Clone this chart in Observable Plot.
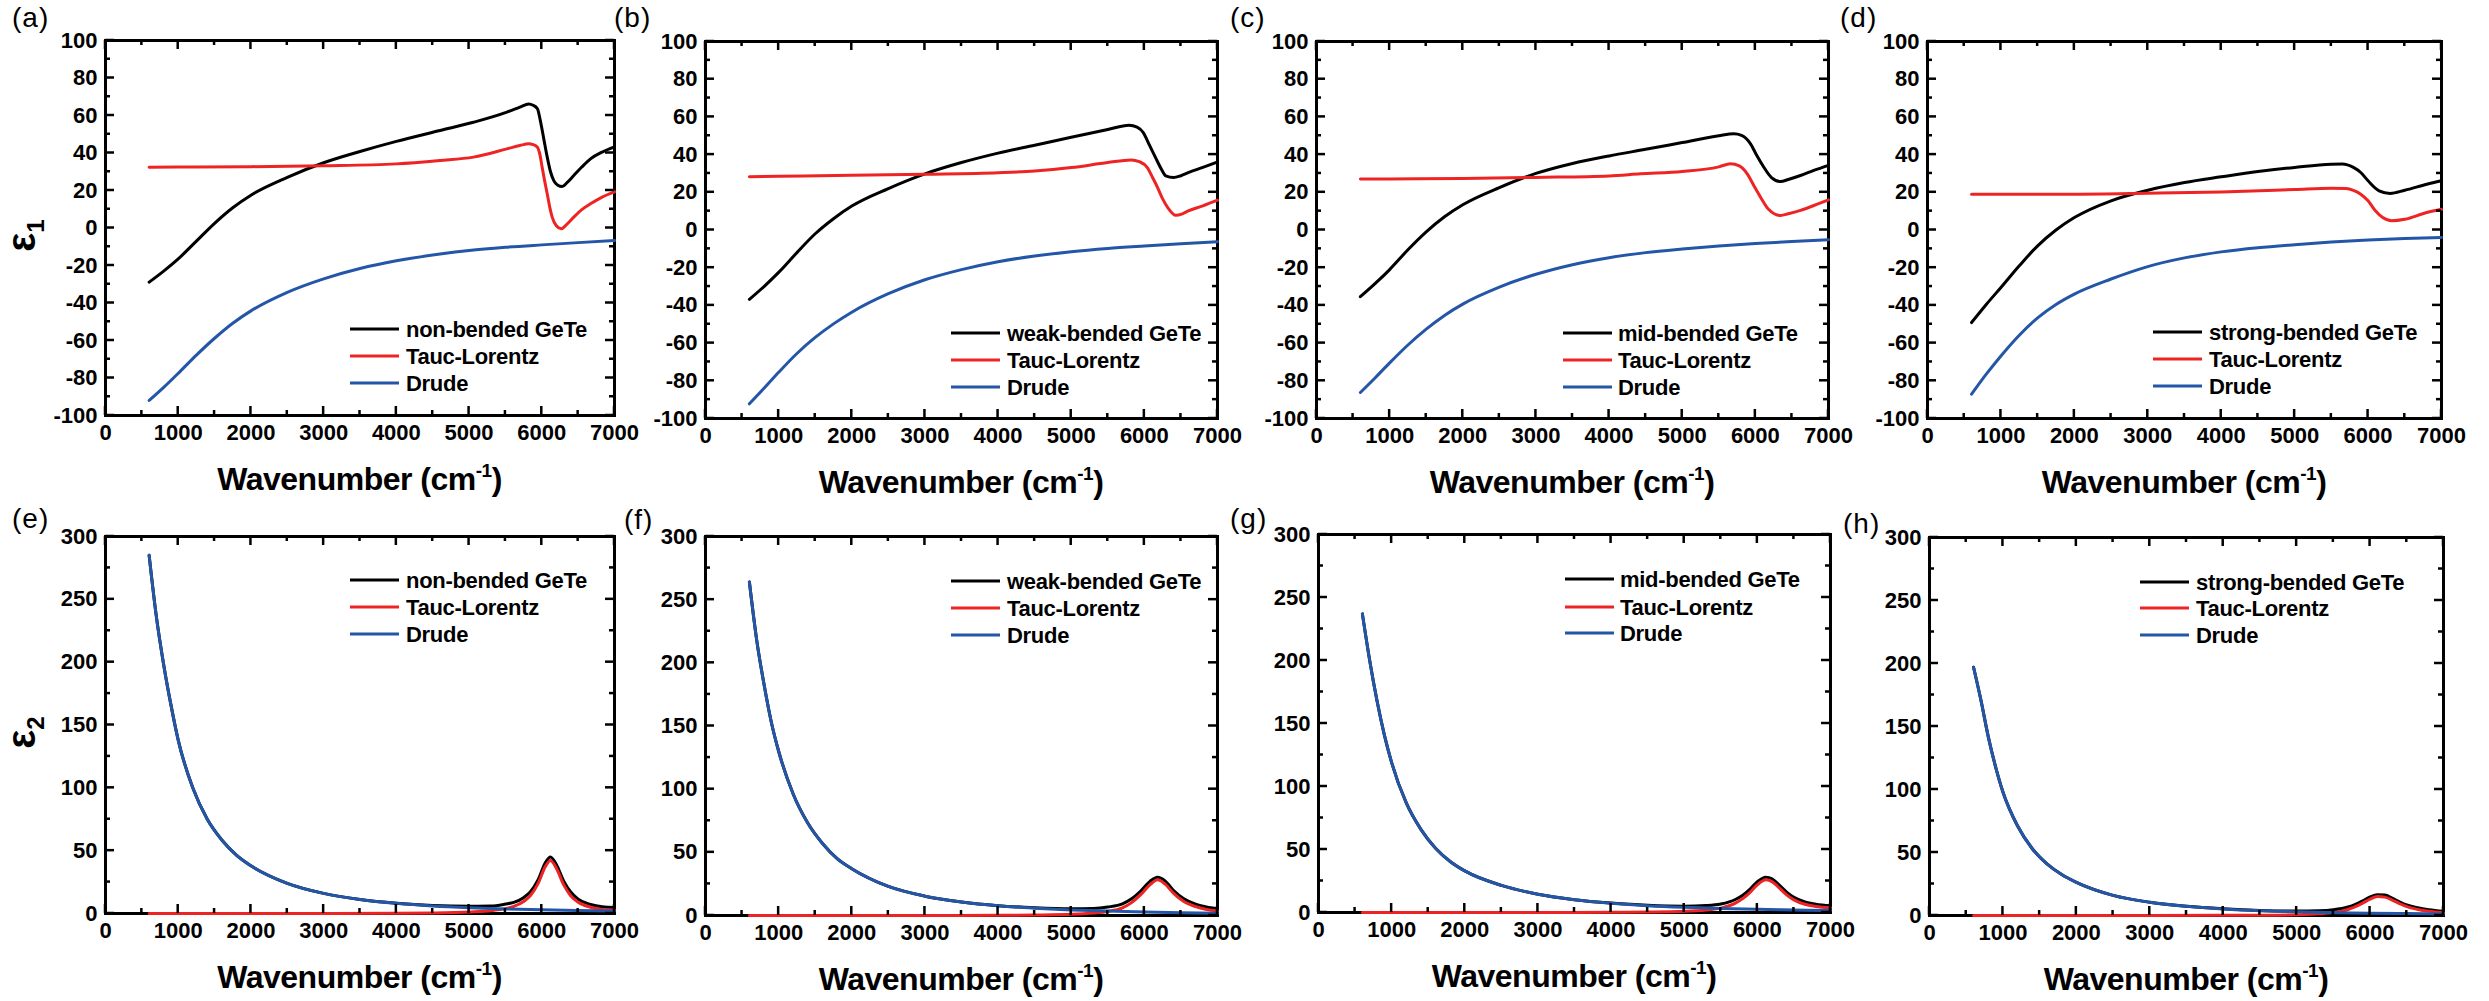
<!DOCTYPE html>
<html><head><meta charset="utf-8">
<script src="https://cdn.jsdelivr.net/npm/d3@7"></script>
<script src="https://cdn.jsdelivr.net/npm/@observablehq/plot@0.6"></script>
<style>
body{margin:0;background:#fff;}
#root{position:relative;width:2489px;height:1001px;overflow:hidden;background:#fff;}
.panel{position:absolute;}
.panel svg{overflow:visible;}
</style></head><body><div id="root"></div>
<script>
// ---------- labels ----------
const panelLetters = ["(a)","(b)","(c)","(d)","(e)","(f)","(g)","(h)"];
const sampleNames = ["non-bended GeTe","weak-bended GeTe","mid-bended GeTe","strong-bended GeTe"];
const modelNames = ["Tauc-Lorentz","Drude"];
const xLabel = "Wavenumber (cm";
const xLabelSup = "-1";
const xTicks = [0,1000,2000,3000,4000,5000,6000,7000];
const xMinor = [500,1500,2500,3500,4500,5500,6500];
const e1Ticks = [-100,-80,-60,-40,-20,0,20,40,60,80,100];
const e1Minor = [-90,-70,-50,-30,-10,10,30,50,70,90];
const e2Ticks = [0,50,100,150,200,250,300];
const e2Minor = [25,75,125,175,225,275];

// ---------- epsilon 1 (wavenumber, value) ----------
const e1NonGeTe = [[600,-28.9],[800,-23],[1000,-16.5],[1250,-7],[1500,2.5],[1750,10.8],[2000,17.5],[2500,27],[3000,34.8],[3500,40.8],[4000,46.2],[4600,52],[5060,56.4],[5520,61.8],[5700,64.5],[5820,66.2],[5880,65.5],[5940,63.6],[5980,57.3],[6030,47],[6075,37.8],[6120,30],[6165,25.3],[6220,22.8],[6280,22.1],[6350,24.3],[6440,28],[6550,32.5],[6670,36.9],[6830,40.5],[7000,43.3]];
const e1NonTL = [[600,32.4],[1000,32.5],[2000,32.7],[3000,33.2],[4000,34.2],[4600,36],[5060,37.8],[5520,42.2],[5700,44],[5820,44.9],[5880,44.5],[5940,43.1],[5975,39],[6005,32.4],[6040,25],[6075,18.2],[6110,11],[6143,5.8],[6200,1.2],[6267,-0.4],[6340,1.8],[6440,5.8],[6550,9.8],[6670,12.9],[6830,16.5],[7000,19.3]];
const e1NonDrude = [[600,-92],[800,-85],[1000,-77.5],[1250,-67.8],[1500,-58.8],[1750,-50.8],[2000,-44.2],[2500,-34.3],[3000,-27.1],[3500,-21.6],[4000,-17.5],[4600,-13.9],[5000,-12],[5500,-10.3],[6000,-9],[6500,-7.8],[7000,-6.7]];

const e1WeakGeTe = [[600,-36.8],[800,-30],[1000,-22.5],[1250,-12],[1500,-2],[1750,6],[2000,12.7],[2500,22],[3000,29.8],[3500,35.8],[4000,40.8],[4500,45],[5000,49.2],[5500,53.3],[5790,55.6],[5900,54.6],[5985,51.7],[6070,45],[6153,38.4],[6230,32.5],[6293,28.7],[6400,27.8],[6500,28.8],[6600,30.4],[6800,33.2],[7000,36.1]];
const e1WeakTL = [[600,28.3],[1000,28.5],[2000,29],[3000,29.6],[4000,30.4],[4500,31.3],[5000,33.1],[5500,35.8],[5818,37.2],[5930,36.3],[6041,33.1],[6110,28],[6181,22.5],[6250,16.5],[6320,11.9],[6430,7.8],[6520,8.6],[6600,10.1],[6800,12.8],[7000,15.8]];
const e1WeakDrude = [[600,-92.2],[800,-84],[1000,-75.5],[1250,-65.5],[1500,-57],[1750,-49.8],[2000,-43.6],[2500,-33.8],[3000,-26.4],[3500,-21],[4000,-16.8],[4500,-13.8],[5000,-11.5],[5500,-9.8],[6000,-8.5],[6500,-7.3],[7000,-6.2]];

const e1MidGeTe = [[600,-35.4],[800,-28.5],[1000,-21],[1250,-10.5],[1500,-1],[1750,7],[2000,13.4],[2500,22.5],[3000,30],[3500,35.3],[4000,39.3],[4500,42.8],[5000,46.4],[5500,50],[5706,51],[5810,50.2],[5934,45.7],[6020,39.5],[6116,33.3],[6220,27.8],[6344,25.7],[6450,26.8],[6617,28.9],[6800,31.6],[7000,34.3]];
const e1MidTL = [[600,27],[1000,27.1],[2000,27.3],[3000,27.9],[4000,28.7],[4430,29.8],[5000,31],[5500,33.5],[5661,35.1],[5780,34],[5889,29.8],[5980,23.5],[6071,17.4],[6180,11],[6344,7.7],[6450,8.6],[6617,10.4],[6800,13],[7000,16]];
const e1MidDrude = [[600,-86.2],[800,-78.5],[1000,-70.5],[1250,-61],[1500,-52.6],[1750,-45.3],[2000,-39.3],[2500,-30.3],[3000,-23.5],[3500,-18.4],[4000,-14.7],[4500,-12],[5000,-10.1],[5500,-8.5],[6000,-7.2],[6500,-6.1],[7000,-5.2]];

const e1StrongGeTe = [[600,-49.1],[800,-39.5],[1000,-30.5],[1250,-19],[1500,-8.4],[1750,0],[2000,6.6],[2500,15.5],[3000,21.1],[3500,25.2],[4000,28.2],[4500,31],[5000,33.2],[5500,34.9],[5650,35],[5800,33.2],[5900,30.5],[6000,26.1],[6150,20.8],[6300,19.4],[6500,21.1],[6800,24.3],[7000,26.1]];
const e1StrongTL = [[600,19],[2000,19],[3000,19.5],[4000,20.2],[5000,21.5],[5500,22.2],[5700,22],[5800,21],[5900,19],[6000,15.5],[6100,10.2],[6200,6.6],[6320,4.9],[6500,5.7],[6800,9.3],[7000,11]];
const e1StrongDrude = [[600,-87.1],[800,-76.5],[1000,-66.8],[1250,-55.8],[1500,-46.6],[1750,-39.5],[2000,-34],[2500,-26],[3000,-19.4],[3500,-14.8],[4000,-11.6],[4500,-9.4],[5000,-7.8],[5500,-6.4],[6000,-5.3],[6500,-4.5],[7000,-4]];

// ---------- epsilon 2 ----------
const wnDrude = [600,700,800,900,1000,1200,1400,1600,1800,2000,2500,3000,3500,4000,4500,5000,5500,6000,6500,7000];
const e2NonDrude = [285,236,198,166,138,100,75,58.5,46.5,38,24,16,11.2,8.1,6,4.6,3.6,2.9,2.4,2];
const e2WeakDrude = [264,218,183,153,130,96,73,57,45,37,23,15.3,10.7,7.7,5.8,4.4,3.5,2.8,2.2,1.8];
const e2MidDrude = [237,200,168,141,119,87,66,51,40.5,33,21.5,14.5,10.2,7.4,5.4,4.1,3.2,2.5,2,1.6];
const e2StrongDrude = [197,171,142,118,98,71,53,41,32.5,26.3,16,10.5,7.3,5.2,3.8,2.9,2.3,1.8,1.5,1.2];

const e2NonTL = [[600,0],[3000,0],[4000,0.1],[4500,0.4],[5000,1.2],[5300,2.2],[5500,3.9],[5614,5.6],[5750,9.5],[5844,14.3],[5950,24],[6050,37.5],[6119,42.2],[6200,36],[6300,23],[6395,14.3],[6500,9],[6670,5],[6830,3.2],[7000,2.7]];
const e2NonGeTeTail = [[4000,8.2],[4500,6.4],[5000,5.8],[5300,5.9],[5500,7.5],[5614,8.9],[5750,12.6],[5844,17.3],[5950,26.9],[6050,40.5],[6119,45],[6200,39],[6300,26],[6395,17.3],[6500,11.4],[6670,7.2],[6830,5.3],[7000,4.7]];
const e2WeakTL = [[600,0],[3000,0],[4000,0.1],[4500,0.4],[5000,1],[5300,2],[5500,3.2],[5700,6],[5820,10],[5950,16.5],[6080,24.5],[6180,28.2],[6280,25],[6400,17.5],[6540,11],[6700,7],[6850,4.8],[7000,3.5]];
const e2WeakGeTeTail = [[4000,7.8],[4500,6.2],[5000,5.4],[5300,5.6],[5500,6.7],[5700,9.2],[5820,13],[5950,19.4],[6080,27.2],[6180,30.3],[6280,27.6],[6400,19.8],[6540,13.2],[6700,9],[6850,6.8],[7000,5.3]];
const e2MidTL = [[600,0],[3000,0],[4000,0.1],[4500,0.3],[5000,0.9],[5300,2],[5500,3.5],[5700,7.5],[5800,11],[5900,16],[6000,22],[6118,25.9],[6200,24.5],[6300,19.5],[6400,14],[6500,10],[6650,6.5],[6800,4.8],[7000,3.7]];
const e2MidGeTeTail = [[4000,7.5],[4500,5.7],[5000,5],[5300,5.5],[5500,6.7],[5700,10.3],[5800,13.7],[5900,18.6],[6000,24.5],[6118,28],[6200,26.7],[6300,21.7],[6400,16.2],[6500,12],[6650,8.4],[6800,6.6],[7000,5.3]];
const e2StrongTL = [[600,0],[3000,0],[4000,0.1],[4500,0.2],[5000,0.6],[5300,1.3],[5500,2.3],[5700,4.8],[5800,7],[5900,9.8],[6000,13],[6100,15.1],[6200,14.6],[6300,12.3],[6400,9.5],[6500,7],[6650,4.8],[6800,3.3],[7000,2.1]];
const e2StrongGeTeTail = [[4000,5.3],[4500,4],[5000,3.5],[5300,3.7],[5500,4.5],[5700,6.7],[5800,8.8],[5900,11.6],[6000,14.7],[6100,16.4],[6200,16.2],[6300,13.8],[6400,10.9],[6500,8.4],[6650,6.1],[6800,4.6],[7000,3.3]];

// ---------- build ----------
const pairs = (xs, ys) => xs.map((x,i) => [x, ys[i]]);
const drudeE2 = [e2NonDrude, e2WeakDrude, e2MidDrude, e2StrongDrude].map(v => pairs(wnDrude, v));
const tailsE2 = [e2NonGeTeTail, e2WeakGeTeTail, e2MidGeTeTail, e2StrongGeTeTail];
const geteE2 = drudeE2.map((d,i) => d.filter(p => p[0] < 4000).concat(tailsE2[i]));
const tlE2 = [e2NonTL, e2WeakTL, e2MidTL, e2StrongTL];
const geteE1 = [e1NonGeTe, e1WeakGeTe, e1MidGeTe, e1StrongGeTe];
const tlE1 = [e1NonTL, e1WeakTL, e1MidTL, e1StrongTL];
const drudeE1 = [e1NonDrude, e1WeakDrude, e1MidDrude, e1StrongDrude];

const COLORS = ["#000000", "#ee2424", "#2456a8"];
const FONT = "'Liberation Sans', Arial, Helvetica, sans-serif";
const ML = 105, MR = 25, MT = 45, MB = 90;

const frames = [
  {left:105, top:40, w:509, h:375, lx:245, tx:301, ly:[289,316,343], lab:-93, laby:-13},
  {left:705, top:41, w:512, h:377, lx:246, tx:302, ly:[292,319,346], lab:-91, laby:-14},
  {left:1316, top:41, w:512, h:377, lx:247, tx:302, ly:[292,319,346], lab:-86, laby:-14},
  {left:1927, top:41, w:514, h:377, lx:226, tx:282, ly:[291,318,345], lab:-87, laby:-14},
  {left:105, top:536, w:509, h:377, lx:245, tx:301, ly:[44,71,98], lab:-93, laby:-8},
  {left:705, top:536, w:512, h:379, lx:246, tx:302, ly:[45,72,99], lab:-81, laby:-7},
  {left:1318, top:534, w:512, h:378, lx:247, tx:302, ly:[45,73,99], lab:-88, laby:-6},
  {left:1929, top:537, w:514, h:378, lx:211, tx:267, ly:[45,71,98], lab:-86, laby:-4}
];

const root = document.getElementById("root");

frames.forEach((f, idx) => {
  const row = idx < 4 ? 0 : 1;
  const s = idx % 4;
  const series = row === 0 ? [geteE1[s], tlE1[s], drudeE1[s]] : [geteE2[s], tlE2[s], drudeE2[s]];
  const yDomain = row === 0 ? [-100, 100] : [0, 300];
  const yTicks = row === 0 ? e1Ticks : e2Ticks;
  const yMinor = row === 0 ? e1Minor : e2Minor;
  const {w, h} = f;

  const plot = Plot.plot({
    width: ML + w + MR, height: MT + h + MB,
    marginLeft: ML, marginRight: MR, marginTop: MT, marginBottom: MB,
    style: {background: "transparent", fontFamily: FONT, fontSize: "22px", color: "#000", overflow: "visible"},
    x: {domain: [0, 7000]},
    y: {domain: yDomain},
    marks: [
      Plot.frame({stroke: "#000", strokeWidth: 3}),
      Plot.axisX({ticks: xTicks, tickSize: 0, tickPadding: 9, tickFormat: d => String(d), fontSize: 22, fontWeight: "bold", fill: "#000", label: null}),
      Plot.axisY({ticks: yTicks, tickSize: 0, tickPadding: 8, tickFormat: d => String(d), fontSize: 22, fontWeight: "bold", fill: "#000", label: null}),
      ...series.map((d, k) => Plot.line(d, {x: p => p[0], y: p => p[1], stroke: COLORS[k], strokeWidth: 3, curve: "monotone-x"}))
    ]
  });

  const sx = plot.scale("x"), sy = plot.scale("y");
  const svg = d3.select(plot);
  const x0 = ML, x1 = ML + w, y0 = MT, y1 = MT + h;
  const tg = svg.append("g").attr("stroke", "#000").attr("stroke-width", 2.5);
  const tick = (xa, ya, xb, yb) => tg.append("line").attr("x1", xa).attr("y1", ya).attr("x2", xb).attr("y2", yb);
  xTicks.forEach(v => { const X = sx.apply(v); tick(X, y1, X, y1 - 9); tick(X, y0, X, y0 + 9); });
  xMinor.forEach(v => { const X = sx.apply(v); tick(X, y1, X, y1 - 5); tick(X, y0, X, y0 + 5); });
  yTicks.forEach(v => { const Y = sy.apply(v); tick(x0, Y, x0 + 9, Y); tick(x1, Y, x1 - 9, Y); });
  yMinor.forEach(v => { const Y = sy.apply(v); tick(x0, Y, x0 + 5, Y); tick(x1, Y, x1 - 5, Y); });

  // legend
  const lg = svg.append("g").attr("font-family", FONT).attr("font-size", 22).attr("font-weight", "bold").attr("text-anchor", "start");
  const names = [sampleNames[s], modelNames[0], modelNames[1]];
  names.forEach((n, k) => {
    const Y = y0 + f.ly[k];
    lg.append("line").attr("x1", x0 + f.lx).attr("x2", x0 + f.lx + 49).attr("y1", Y).attr("y2", Y)
      .attr("stroke", COLORS[k]).attr("stroke-width", 3);
    lg.append("text").attr("x", x0 + f.tx).attr("y", Y).attr("dy", "0.36em").attr("fill", "#000")
      .attr("text-anchor", "start").attr("letter-spacing", "-0.3px").text(n);
  });

  // x label
  const xl = svg.append("text").attr("x", x0 + w / 2).attr("y", y1 + 75).attr("text-anchor", "middle")
    .attr("font-family", FONT).attr("font-size", 32).attr("font-weight", "bold").attr("fill", "#000")
    .attr("letter-spacing", "-0.5px");
  xl.append("tspan").text(xLabel);
  xl.append("tspan").attr("font-size", 19).attr("dy", -13).text(xLabelSup);
  xl.append("tspan").attr("dy", 13).text(")");

  // panel letter
  svg.append("text").attr("x", x0 + f.lab).attr("y", y0 + f.laby).attr("font-family", FONT)
    .attr("text-anchor", "start").attr("font-size", 28).attr("fill", "#000").attr("letter-spacing", "1px").text(panelLetters[idx]);

  // y label (first column only)
  if (s === 0) {
    const yl = svg.append("text").attr("transform", `translate(${x0 - 70},${y0 + h / 2 + 8}) rotate(-90)`)
      .attr("text-anchor", "middle").attr("font-family", FONT).attr("font-weight", "bold").attr("font-size", 40).attr("fill", "#000");
    yl.append("tspan").text("ε");
    yl.append("tspan").attr("font-size", 24).attr("dy", 9).text(row === 0 ? "1" : "2");
  }

  const div = document.createElement("div");
  div.className = "panel";
  div.style.left = (f.left - ML) + "px";
  div.style.top = (f.top - MT) + "px";
  div.appendChild(plot);
  root.appendChild(div);
});
</script></body></html>
